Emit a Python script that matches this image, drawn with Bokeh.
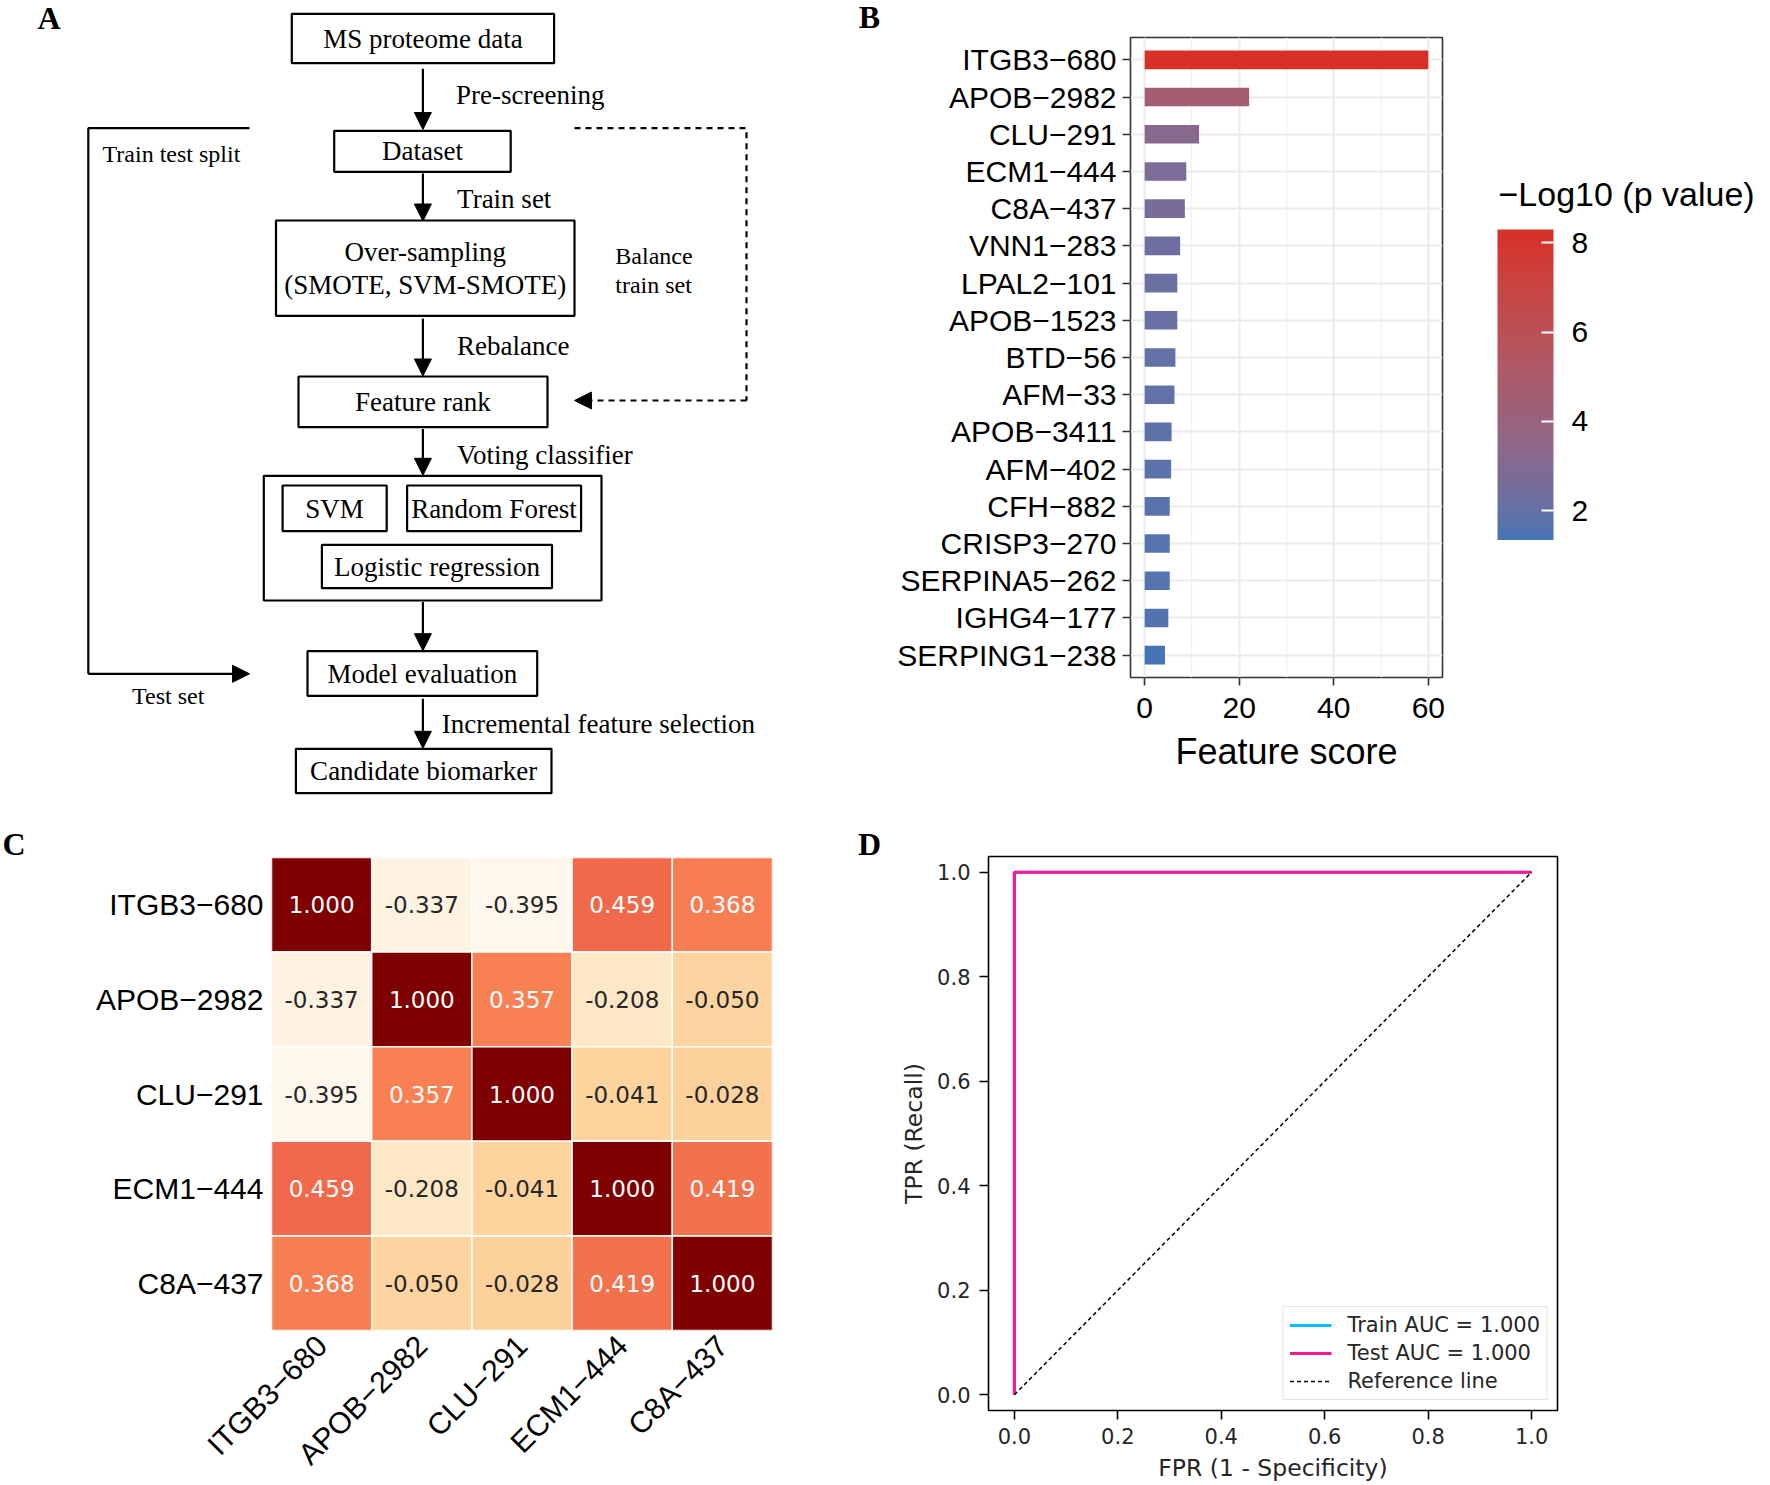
import math
from bokeh.plotting import figure
from bokeh.models import (Range1d, FactorRange, ColumnDataSource, LinearColorMapper, ColorBar,
                          FixedTicker, Arrow, NormalHead, Legend, LegendItem,
                          PrintfTickFormatter)
from bokeh.transform import transform
from bokeh.core.properties import value
from bokeh.palettes import OrRd
from bokeh.embed import file_html
from bokeh.resources import INLINE

# ---------------- data ----------------
# Panel B: feature ranking
features = ["ITGB3−680", "APOB−2982", "CLU−291", "ECM1−444", "C8A−437", "VNN1−283",
            "LPAL2−101", "APOB−1523", "BTD−56", "AFM−33", "APOB−3411", "AFM−402",
            "CFH−882", "CRISP3−270", "SERPINA5−262", "IGHG4−177", "SERPING1−238"]
feature_score = [60.0, 22.1, 11.5, 8.8, 8.5, 7.5, 6.9, 6.9, 6.5, 6.3, 5.7, 5.6, 5.3, 5.3, 5.3, 5.0, 4.3]
neg_log10_p = [8.30, 4.6, 3.2, 2.7, 2.6, 2.3, 2.2, 2.1, 2.0, 1.95, 1.85, 1.8, 1.75, 1.7, 1.65, 1.6, 1.33]
score_ticks = [0, 20, 40, 60]
p_ticks = [2, 4, 6, 8]
p_title = "−Log10 (p value)"

# Panel C: correlation matrix
corr_features = ["ITGB3−680", "APOB−2982", "CLU−291", "ECM1−444", "C8A−437"]
corr_matrix = [
    [1.000, -0.337, -0.395, 0.459, 0.368],
    [-0.337, 1.000, 0.357, -0.208, -0.050],
    [-0.395, 0.357, 1.000, -0.041, -0.028],
    [0.459, -0.208, -0.041, 1.000, 0.419],
    [0.368, -0.050, -0.028, 0.419, 1.000],
]

# Panel D: ROC curves
train_fpr = [0.0, 0.0, 1.0]
train_tpr = [0.0, 1.0, 1.0]
test_fpr = [0.0, 0.0, 1.0]
test_tpr = [0.0, 1.0, 1.0]
ref_x = [0.0, 1.0]
ref_y = [0.0, 1.0]
roc_ticks = [0.0, 0.2, 0.4, 0.6, 0.8, 1.0]
train_label = "Train AUC = 1.000"
test_label = "Test AUC = 1.000"
ref_label = "Reference line"

# Panel A: flowchart (layout in page pixels)
flow_boxes = [  # left, right, top, bottom
    (291.3, 553.6, 13.3, 62.7),    # MS proteome data
    (333.7, 510.2, 130.3, 171.3),  # Dataset
    (275.5, 574.0, 220.0, 315.3),  # Over-sampling
    (298.0, 547.0, 376.0, 426.7),  # Feature rank
    (263.3, 601.0, 475.3, 600.0),  # voting container
    (282.1, 386.2, 485.0, 530.7),  # SVM
    (406.6, 580.6, 485.0, 530.7),  # Random Forest
    (321.4, 551.5, 544.3, 587.7),  # Logistic regression
    (307.0, 536.7, 650.7, 695.3),  # Model evaluation
    (295.4, 551.0, 748.3, 792.7),  # Candidate biomarker
]
box_texts = [  # x, y, text
    (422.4, 38.0, "MS proteome data"),
    (422.0, 150.8, "Dataset"),
    (424.7, 251.7, "Over-sampling"),
    (424.7, 284.5, "(SMOTE, SVM-SMOTE)"),
    (422.4, 401.0, "Feature rank"),
    (334.0, 508.5, "SVM"),
    (493.5, 508.5, "Random Forest"),
    (436.5, 566.0, "Logistic regression"),
    (421.8, 673.3, "Model evaluation"),
    (423.2, 770.5, "Candidate biomarker"),
]
step_texts = [  # x (left), y, text
    (455.6, 94.3, "Pre-screening"),
    (456.6, 198.3, "Train set"),
    (456.6, 345.0, "Rebalance"),
    (456.6, 454.3, "Voting classifier"),
    (441.3, 723.3, "Incremental feature selection"),
]
side_texts = [  # x (left), y, text
    (102.0, 153.3, "Train test split"),
    (614.8, 255.0, "Balance"),
    (614.8, 284.3, "train set"),
    (131.6, 695.7, "Test set"),
]
flow_arrows = [  # x, y_start, y_end
    (422.4, 68.3, 129.0),
    (422.4, 173.0, 220.5),
    (422.4, 318.0, 375.5),
    (422.4, 428.5, 474.8),
    (422.4, 601.5, 650.2),
    (422.4, 698.3, 747.8),
]

# ---------------- helpers ----------------
def _lin(c):
    c = c / 255.0
    return c / 12.92 if c <= 0.04045 else ((c + 0.055) / 1.055) ** 2.4

def _unlin(c):
    v = 12.92 * c if c <= 0.0031308 else 1.055 * (max(c, 0) ** (1 / 2.4)) - 0.055
    return int(round(max(0.0, min(1.0, v)) * 255))

WN = (0.95047, 1.0, 1.08883)

def hex_to_lab(h):
    r, g, b = [_lin(int(h[i:i + 2], 16)) for i in (1, 3, 5)]
    X = 0.4124 * r + 0.3576 * g + 0.1805 * b
    Y = 0.2126 * r + 0.7152 * g + 0.0722 * b
    Z = 0.0193 * r + 0.1192 * g + 0.9505 * b
    f = lambda t: t ** (1 / 3) if t > 0.008856 else 7.787 * t + 16 / 116
    fx, fy, fz = f(X / WN[0]), f(Y / WN[1]), f(Z / WN[2])
    return (116 * fy - 16, 500 * (fx - fy), 200 * (fy - fz))

def lab_to_hex(L, a, b):
    fy = (L + 16) / 116
    fx = fy + a / 500
    fz = fy - b / 200
    finv = lambda t: t ** 3 if t ** 3 > 0.008856 else (t - 16 / 116) / 7.787
    X, Y, Z = finv(fx) * WN[0], finv(fy) * WN[1], finv(fz) * WN[2]
    r = 3.2406 * X - 1.5372 * Y - 0.4986 * Z
    g = -0.9689 * X + 1.8758 * Y + 0.0415 * Z
    bb = 0.0557 * X - 0.2040 * Y + 1.0570 * Z
    return "#%02x%02x%02x" % (_unlin(r), _unlin(g), _unlin(bb))

def lab_gradient(c0, c1, n=256):
    l0, l1 = hex_to_lab(c0), hex_to_lab(c1)
    return [lab_to_hex(*[l0[k] + (l1[k] - l0[k]) * i / (n - 1) for k in range(3)]) for i in range(n)]

def rgb_gradient(anchors, n=256):
    rgb = [tuple(int(h[i:i + 2], 16) for i in (1, 3, 5)) for h in anchors]
    out = []
    for i in range(n):
        t = i / (n - 1) * (len(rgb) - 1)
        k = min(int(t), len(rgb) - 2)
        f = t - k
        c = [round(rgb[k][j] + (rgb[k + 1][j] - rgb[k][j]) * f) for j in range(3)]
        out.append("#%02x%02x%02x" % tuple(c))
    return out

def luminance(h):
    r, g, b = [_lin(int(h[i:i + 2], 16)) for i in (1, 3, 5)]
    return 0.2126 * r + 0.7152 * g + 0.0722 * b

def blank_canvas(w, h):
    f = figure(width=w, height=h, x_range=Range1d(0, w), y_range=Range1d(h, 0),
               output_backend="svg", toolbar_location=None, min_border=0,
               x_axis_location=None, y_axis_location=None)
    f.grid.visible = False
    f.outline_line_color = None
    f.background_fill_alpha = 0
    f.border_fill_alpha = 0
    return f

def letter_canvas(letter, lx, ly):
    f = blank_canvas(40, 40)
    f.text(x=[lx], y=[ly], text=[letter], text_font=SERIF, text_font_size="32px",
           text_font_style="bold", text_align="center", text_baseline="middle", text_color="black")
    return f

SANS = value("Liberation Sans")
SERIF = value("Liberation Serif")
DJV = value("DejaVu Sans")

# ---------------- Panel A ----------------
pa = blank_canvas(850, 820)
pa.background_fill_alpha = 1
pa.border_fill_alpha = 1

pa.quad(left=[b[0] for b in flow_boxes], right=[b[1] for b in flow_boxes],
        top=[b[2] for b in flow_boxes], bottom=[b[3] for b in flow_boxes],
        fill_color=None, line_color="black", line_width=2.2)

pa.text(x=[t[0] for t in box_texts], y=[t[1] for t in box_texts], text=[t[2] for t in box_texts],
        text_font=SERIF, text_font_size="27px", text_align="center", text_baseline="middle",
        text_color="black")
pa.text(x=[t[0] for t in step_texts], y=[t[1] for t in step_texts], text=[t[2] for t in step_texts],
        text_font=SERIF, text_font_size="27px", text_align="left", text_baseline="middle",
        text_color="black")
pa.text(x=[t[0] for t in side_texts], y=[t[1] for t in side_texts], text=[t[2] for t in side_texts],
        text_font=SERIF, text_font_size="24px", text_align="left", text_baseline="middle",
        text_color="black")

for ax, y0, y1 in flow_arrows:
    pa.add_layout(Arrow(end=NormalHead(size=17, fill_color="black", line_color="black", line_width=1),
                        x_start=ax, y_start=y0, x_end=ax, y_end=y1,
                        line_color="black", line_width=2.2))

pa.line(x=[249.0, 87.8, 87.8], y=[127.7, 127.7, 673.3], line_color="black", line_width=2.2)
pa.add_layout(Arrow(end=NormalHead(size=17, fill_color="black", line_color="black", line_width=1),
                    x_start=87.8, y_start=673.3, x_end=249.0, y_end=673.3,
                    line_color="black", line_width=2.2))
pa.line(x=[574.0, 746.0, 746.0], y=[127.7, 127.7, 400.0], line_color="black", line_width=2.2,
        line_dash="6 5")
pa.add_layout(Arrow(end=NormalHead(size=17, fill_color="black", line_color="black", line_width=1),
                    x_start=746.0, y_start=400.0, x_end=574.0, y_end=400.0,
                    line_color="black", line_width=2.2, line_dash="6 5"))

pa.text(x=[48.5], y=[17.0], text=["A"], text_font=SERIF, text_font_size="32px",
        text_font_style="bold", text_align="center", text_baseline="middle")

# ---------------- Panel B ----------------
positions = list(range(1, len(features) + 1))
bar_src = ColumnDataSource(dict(y=positions, score=feature_score, p=neg_log10_p))
p_palette = lab_gradient("#4575B4", "#D73027", 256)
p_mapper = LinearColorMapper(palette=p_palette, low=min(neg_log10_p), high=max(neg_log10_p))

pb = figure(width=920, height=820, x_range=Range1d(-3, 63),
            y_range=Range1d(len(features) + 0.6, 0.4),
            output_backend="svg", toolbar_location=None,
            min_border_left=280, min_border_right=328, min_border_top=37, min_border_bottom=143)
pb.hbar(y="y", left=0, right="score", height=0.5, source=bar_src,
        fill_color=transform("p", p_mapper), line_color=None)

minor_score = [(a + b) / 2 for a, b in zip(score_ticks[:-1], score_ticks[1:])]
xt = FixedTicker(ticks=score_ticks, minor_ticks=minor_score)
yt = FixedTicker(ticks=positions, minor_ticks=[])
pb.xaxis.ticker = xt
pb.xgrid.ticker = xt
pb.yaxis.ticker = yt
pb.ygrid.ticker = yt
pb.yaxis.major_label_overrides = {pos: name for pos, name in zip(positions, features)}
pb.xgrid.grid_line_color = "#EBEBEB"
pb.xgrid.grid_line_width = 2
pb.xgrid.minor_grid_line_color = "#F2F2F2"
pb.xgrid.minor_grid_line_width = 1.5
pb.ygrid.grid_line_color = "#EBEBEB"
pb.ygrid.grid_line_width = 2
pb.outline_line_color = "#333333"
pb.outline_line_width = 1.6
for ax in (pb.xaxis[0], pb.yaxis[0]):
    ax.axis_line_color = None
    ax.major_tick_line_color = "#333333"
    ax.major_tick_line_width = 1.6
    ax.major_tick_in = 0
    ax.major_tick_out = 8
    ax.minor_tick_line_color = None
    ax.major_label_text_font = "Liberation Sans"
    ax.major_label_text_font_size = "30px"
    ax.major_label_text_color = "black"
pb.yaxis.major_label_standoff = 6
pb.xaxis.major_label_standoff = 12
pb.xaxis.axis_label = "Feature score"
pb.xaxis.axis_label_text_font = "Liberation Sans"
pb.xaxis.axis_label_text_font_size = "36px"
pb.xaxis.axis_label_text_font_style = "normal"
pb.xaxis.axis_label_text_color = "black"
pb.xaxis.axis_label_standoff = 10

# colour bar for panel B (own small canvas placed to the right of the bars)
pcb = blank_canvas(273, 365)
pcb.text(x=[1.0], y=[18.0], text=[p_title], text_font=SANS, text_font_size="34px",
         text_align="left", text_baseline="middle", text_color="black")
cbar = ColorBar(color_mapper=p_mapper, ticker=FixedTicker(ticks=p_ticks), width=56, height=311,
                major_label_text_font="Liberation Sans", major_label_text_font_size="30px",
                major_label_text_color="black", label_standoff=18,
                major_tick_line_color="white", major_tick_line_width=1.8,
                major_tick_in=12, major_tick_out=0, bar_line_color=None,
                padding=0, margin=0, location="bottom_left", background_fill_color=None,
                border_line_color=None)
pcb.add_layout(cbar)

# ---------------- Panel C ----------------
orrd = rgb_gradient(list(reversed(OrRd[9])), 256)
flat_vals = [v for r in corr_matrix for v in r]
c_mapper = LinearColorMapper(palette=orrd, low=min(flat_vals), high=max(flat_vals))

cx, cy, cv, ct, cc = [], [], [], [], []
for i, rname in enumerate(corr_features):
    for j, cname in enumerate(corr_features):
        v = corr_matrix[i][j]
        cx.append(cname)
        cy.append(rname)
        cv.append(v)
        ct.append("%.3f" % v)
        idx = int(round((v - c_mapper.low) / (c_mapper.high - c_mapper.low) * (len(orrd) - 1)))
        cc.append("white" if luminance(orrd[idx]) < 0.408 else "#262626")
heat_src = ColumnDataSource(dict(x=cx, y=cy, v=cv, t=ct, c=cc))

pc = figure(width=850, height=665, x_range=FactorRange(factors=corr_features),
            y_range=FactorRange(factors=list(reversed(corr_features))),
            output_backend="svg", toolbar_location=None,
            min_border_left=271, min_border_right=78, min_border_top=37, min_border_bottom=149)
pc.rect(x="x", y="y", width=1, height=1, source=heat_src,
        fill_color=transform("v", c_mapper), line_color="white", line_width=1.5)
pc.text(x="x", y="y", text="t", source=heat_src, text_color="c", text_font=DJV,
        text_font_size="23px", text_align="center", text_baseline="middle")
pc.grid.visible = False
pc.outline_line_color = None
for ax in (pc.xaxis[0], pc.yaxis[0]):
    ax.axis_line_color = None
    ax.major_tick_line_color = None
    ax.minor_tick_line_color = None
    ax.major_label_text_font = "Liberation Sans"
    ax.major_label_text_font_size = "30px"
    ax.major_label_text_color = "black"
pc.yaxis.major_label_standoff = 2
pc.xaxis.major_label_standoff = 4
pc.xaxis.major_label_orientation = math.pi / 4

# ---------------- Panel D ----------------
pd_ = figure(width=920, height=665, x_range=Range1d(-0.05, 1.05), y_range=Range1d(-0.03, 1.03),
             output_backend="svg", toolbar_location=None,
             min_border_left=138, min_border_right=213, min_border_top=36, min_border_bottom=75)
r_train = pd_.line(train_fpr, train_tpr, line_color="#00BFFF", line_width=3)
r_test = pd_.line(test_fpr, test_tpr, line_color="#FF1493", line_width=3)
r_ref = pd_.line(ref_x, ref_y, line_color="black", line_width=1.5, line_dash="4 3")
pd_.grid.visible = False
pd_.outline_line_color = "black"
pd_.outline_line_width = 1.6
rt = FixedTicker(ticks=roc_ticks, minor_ticks=[])
for ax in (pd_.xaxis[0], pd_.yaxis[0]):
    ax.ticker = rt
    ax.formatter = PrintfTickFormatter(format="%.1f")
    ax.axis_line_color = None
    ax.major_tick_line_color = "black"
    ax.major_tick_line_width = 1.6
    ax.major_tick_in = 0
    ax.major_tick_out = 9
    ax.minor_tick_line_color = None
    ax.major_label_text_font = "DejaVu Sans"
    ax.major_label_text_font_size = "21px"
    ax.major_label_text_color = "#262626"
    ax.axis_label_text_font = "DejaVu Sans"
    ax.axis_label_text_font_size = "23.5px"
    ax.axis_label_text_font_style = "normal"
    ax.axis_label_text_color = "#262626"
pd_.xaxis.axis_label = "FPR (1 - Specificity)"
pd_.yaxis.axis_label = "TPR (Recall)"
pd_.xaxis.major_label_standoff = 8
pd_.yaxis.major_label_standoff = 9
pd_.xaxis.axis_label_standoff = 7
pd_.yaxis.axis_label_standoff = 6

legend = Legend(items=[LegendItem(label=train_label, renderers=[r_train]),
                       LegendItem(label=test_label, renderers=[r_test]),
                       LegendItem(label=ref_label, renderers=[r_ref])],
                location="bottom_right", label_text_font="DejaVu Sans", label_text_font_size="21px",
                label_text_color="#262626", glyph_width=42, glyph_height=20, label_height=20,
                label_standoff=16, spacing=4, padding=6, margin=10,
                border_line_color="#CCCCCC", border_line_width=1.5,
                background_fill_color="white", background_fill_alpha=0.8)
pd_.add_layout(legend)

# panel letters
lb = letter_canvas("B", 20, 16)
lc = letter_canvas("C", 13.5, 20)
ld = letter_canvas("D", 20, 20)

# ---------------- page: each panel placed at its own spot ----------------
panels = [pa, pb, pcb, pc, pd_, lb, lc, ld]
panel_pos = [(0, 0), (850, 0), (1497, 175), (0, 820), (850, 820), (849, 0), (0, 823), (849, 823)]

TEMPLATE = """
{% from macros import embed %}
{% block postamble %}
<style>
  .panel { position: absolute; margin: 0; padding: 0; }
</style>
{% endblock %}
{% block contents %}
{% for doc in docs %}
{% for root in doc.roots %}
<div class="panel" style="left: {{ panel_pos[loop.index0][0] }}px; top: {{ panel_pos[loop.index0][1] }}px;">
{{ embed(root) }}
</div>
{% endfor %}
{% endfor %}
{% endblock %}
"""

html = file_html(panels, INLINE, template=TEMPLATE, template_variables={"panel_pos": panel_pos})
open("out.html", "w").write(html)
